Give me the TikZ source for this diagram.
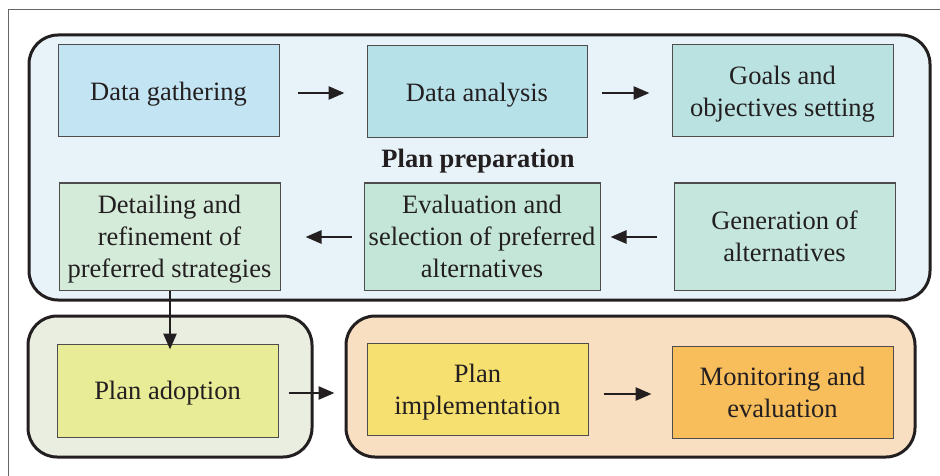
\documentclass[tikz,border=0pt]{standalone}
\usepackage{fontspec}
\setmainfont{Liberation Serif}
\usetikzlibrary{arrows.meta}
\definecolor{ink}{HTML}{231F20}
\definecolor{prepfill}{HTML}{E7F3F9}
\definecolor{cgather}{HTML}{C3E5F3}
\definecolor{canal}{HTML}{B7E1E9}
\definecolor{cgoals}{HTML}{B9E2E1}
\definecolor{cdetail}{HTML}{D5EBDA}
\definecolor{ceval}{HTML}{C4E6D9}
\definecolor{cgen}{HTML}{C4E6DC}
\definecolor{adoptgrp}{HTML}{EAEEE1}
\definecolor{cadopt}{HTML}{E8EC96}
\definecolor{implgrp}{HTML}{F9DFC1}
\definecolor{cimpl}{HTML}{F6E070}
\definecolor{cmon}{HTML}{F8BE5C}
\tikzset{
  stepbox/.style={draw=ink!80, line width=1pt, inner sep=0pt, align=center,
    text=ink, text depth=0pt, font=\fontsize{26.5}{32}\selectfont},
  groupbox/.style={draw=ink, line width=3pt, rounded corners=29pt, inner sep=0pt},
  arr/.style={draw=ink, line width=2.7pt, -{Triangle[length=16pt,width=13pt]}},
}
\begin{document}
\begin{tikzpicture}[x=1pt,y=-1pt]
\useasboundingbox (0,0) rectangle (940,476);
\fill[white] (0,0) rectangle (940,476);
% outer frame
\draw[gray!80!black, line width=1.3pt] (8.5,480) -- (8.5,9.5) -- (945,9.5);
% group boxes
\node[groupbox, fill=prepfill, minimum width=901pt, minimum height=265pt] (prep) at (479.5,167.5) {};
\node[groupbox, fill=adoptgrp, minimum width=284pt, minimum height=141pt] (adoptg) at (170,386.5) {};
\node[groupbox, fill=implgrp, minimum width=569pt, minimum height=141pt] (implg) at (630.5,386.5) {};
% steps
\node[stepbox, fill=cgather, minimum width=221pt, minimum height=92pt] (gath) at (168.5,91) {Data gathering};
\node[stepbox, fill=canal, minimum width=220pt, minimum height=92pt] (anal) at (477,92) {Data analysis};
\node[stepbox, fill=cgoals, minimum width=221pt, minimum height=92pt] (goal) at (782.5,91) {Goals and\\objectives setting};
\node[stepbox, fill=cdetail, minimum width=221pt, minimum height=107pt] (det) at (169.5,236.5) {Detailing and\\refinement of\\preferred strategies};
\node[stepbox, fill=ceval, minimum width=236pt, minimum height=107pt] (eval) at (482,236.5) {Evaluation and\\selection of preferred\\alternatives};
\node[stepbox, fill=cgen, minimum width=221pt, minimum height=107pt] (gen) at (784.5,236.5) {Generation of\\alternatives};
\node[stepbox, fill=cadopt, minimum width=221pt, minimum height=93pt] (adopt) at (167.5,390.5) {Plan adoption};
\node[stepbox, fill=cimpl, minimum width=221pt, minimum height=92pt] (impl) at (477.5,389) {Plan\\implementation};
\node[stepbox, fill=cmon, minimum width=221pt, minimum height=92pt] (mon) at (782.5,392) {Monitoring and\\evaluation};
% label
\node[text=ink, font=\fontsize{26.5}{30}\selectfont\bfseries] (lbl) at (478,161) {Plan preparation};
% arrows
\draw[arr, shorten <=18pt, shorten >=22pt] (gath.east |- 0,93) coordinate (g1) -- (g1 -| anal.west);
\draw[arr, shorten <=14pt, shorten >=22pt] (anal.east |- 0,93) coordinate (a1) -- (a1 -| goal.west);
\draw[arr, shorten <=17pt, shorten >=10pt] (gen.west |- 0,237) coordinate (n1) -- (n1 -| eval.east);
\draw[arr, shorten <=12pt, shorten >=25pt] (eval.west |- 0,237) coordinate (e1) -- (e1 -| det.east);
\draw[arr, shorten >=-6pt] (det.south -| 170,0) coordinate (d1) -- (d1 |- adopt.north);
\draw[arr, shorten <=10pt, shorten >=10pt] (adopt.east |- 0,393) coordinate (p1) -- (p1 -| implg.west);
\draw[arr, shorten <=15pt, shorten >=20pt] (impl.east |- 0,394) coordinate (i1) -- (i1 -| mon.west);
\end{tikzpicture}
\end{document}
